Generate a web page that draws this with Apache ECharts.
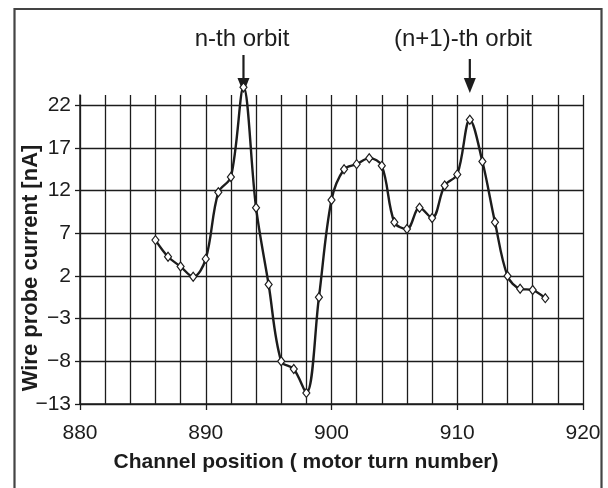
<!DOCTYPE html>
<html><head><meta charset="utf-8">
<script src="https://cdn.jsdelivr.net/npm/echarts@6/dist/echarts.min.js"></script>
<style>html,body{margin:0;padding:0;background:#fff}#c{width:608px;height:488px}</style>
</head><body><div id="c"></div>
<script>
const channel = [886,887,888,889,890,891,892,893,894,895,896,897,898,899,900,901,902,903,904,905,906,907,908,909,910,911,912,913,914,915,916,917];
const current = [6.2,4.25,3.1,1.9,4.0,11.8,13.6,24.1,10.0,1.0,-8.0,-8.9,-11.7,-0.5,10.9,14.5,15.1,15.8,14.9,8.3,7.5,10.0,8.8,12.6,13.9,20.3,15.4,8.3,2.0,0.5,0.35,-0.6];
const xTickLabels = ['880','890','900','910','920'];
const yTickLabels = ['\u221213','\u22128','\u22123','2','7','12','17','22'];
const annotations = [
  {text: 'n-th orbit', at: 893},
  {text: '(n+1)-th orbit', at: 911}
];
const xTitle = 'Channel position ( motor turn number)';
const yTitle = 'Wire probe current [nA]';

const FONT = "'Liberation Sans', Arial, Helvetica, sans-serif";
const INK = '#1c1c1c';
const chart = echarts.init(document.getElementById('c'), null, {renderer: 'canvas'});
const data = channel.map((c, i) => [c, current[i]]);

const option = {
  animation: false,
  backgroundColor: '#fff',
  grid: {left: 80, right: 25, top: 95, bottom: 84, containLabel: false},
  xAxis: [{
    type: 'value', min: 880, max: 920, interval: 2,
    axisLine: {show: true, onZero: false, lineStyle: {color: INK, width: 1.5}},
    axisTick: {show: false},
    axisLabel: {show: false},
    splitLine: {show: true, lineStyle: {color: INK, width: 1.3}}
  }, {
    type: 'value', min: 880, max: 920, interval: 10, position: 'bottom',
    axisLine: {show: false, onZero: false},
    axisTick: {show: true, length: 6, lineStyle: {color: INK, width: 1.3}},
    axisLabel: {show: true, margin: 19, fontSize: 21, fontFamily: FONT, color: INK,
      formatter: v => xTickLabels[xTickLabels.indexOf(String(v))] || ''},
    splitLine: {show: false}
  }],
  yAxis: {
    type: 'value', min: -13, max: 23.2, interval: 5,
    axisLine: {show: true, onZero: false, lineStyle: {color: INK, width: 1.5}},
    axisTick: {show: true, length: 5, lineStyle: {color: INK, width: 1.3}},
    axisLabel: {show: true, margin: 9, fontSize: 21, fontFamily: FONT, color: INK, showMaxLabel: false,
      formatter: v => {
        const s = String(v).replace('-', '\u2212');
        return yTickLabels.indexOf(s) >= 0 ? s : '';
      }},
    splitLine: {show: true, showMaxLine: false, lineStyle: {color: INK, width: 1.3}}
  },
  series: [{
    type: 'line', xAxisIndex: 0, data: data, smooth: 0.35, clip: false,
    symbol: 'diamond', symbolSize: [7, 9], showAllSymbol: true,
    lineStyle: {color: INK, width: 2.4},
    itemStyle: {color: '#fff', borderColor: INK, borderWidth: 1.2},
    z: 5
  }]
};
chart.setOption(option);

function buildGraphics() {
  const g = [];
  g.push({type: 'rect', shape: {x: 14.5, y: 9, width: 587, height: 520},
    style: {fill: 'none', stroke: '#444', lineWidth: 2.2}, silent: true});
  g.push({type: 'text', x: 306, y: 462, style: {text: xTitle, font: 'bold 21px ' + FONT, fill: INK,
    textAlign: 'center', textVerticalAlign: 'middle'}});
  g.push({type: 'text', x: 31, y: 268, rotation: Math.PI / 2, style: {text: yTitle, font: 'bold 22px ' + FONT, fill: INK,
    textAlign: 'center', textVerticalAlign: 'middle'}});
  const textX = [242, 463];
  annotations.forEach((a, i) => {
    const px = chart.convertToPixel({xAxisIndex: 0, yAxisIndex: 0}, [a.at, 0])[0];
    g.push({type: 'text', x: textX[i], y: 39, style: {text: a.text, font: '24px ' + FONT, fill: INK,
      textAlign: 'center', textVerticalAlign: 'middle'}});
    g.push({type: 'line', shape: {x1: px, y1: i === 0 ? 55 : 59, x2: px, y2: 82},
      style: {stroke: INK, lineWidth: 2.2}});
    g.push({type: 'polygon', shape: {points: [[px - 6, 78], [px + 6, 78], [px, 93]]},
      style: {fill: INK}});
  });
  chart.setOption({graphic: g});
}
buildGraphics();
</script>
</body></html>
